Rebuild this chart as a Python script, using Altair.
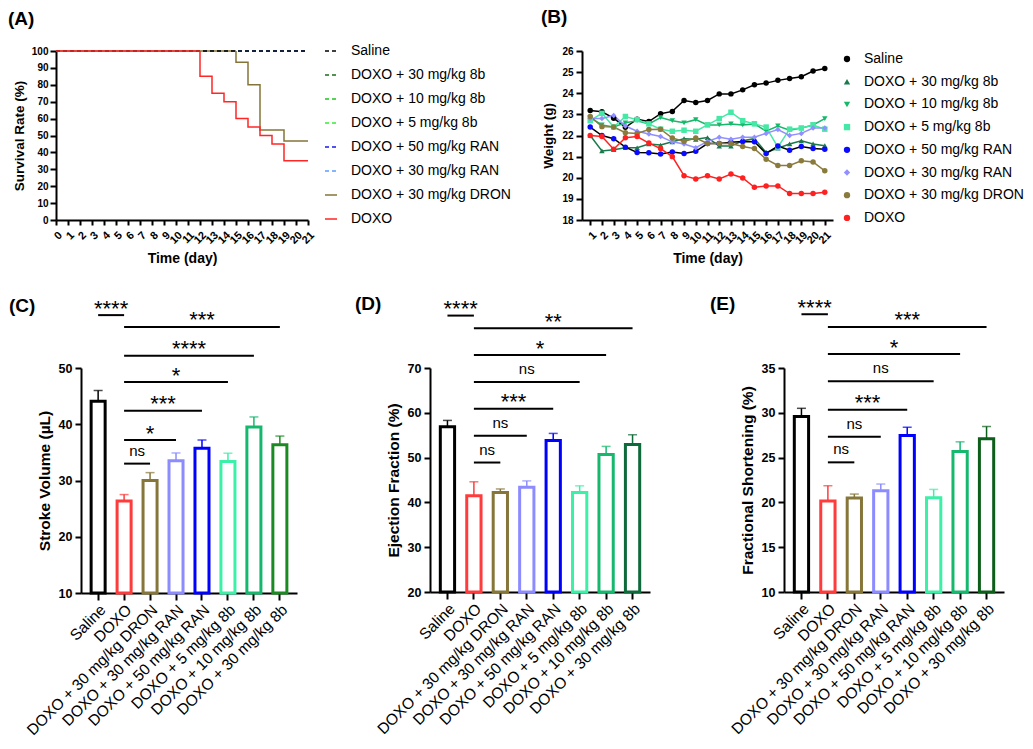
import json
import altair as alt
import pandas as pd

FONT = "Liberation Sans"

# ---------------- shared group names ----------------
groups = ["Saline", "DOXO + 30 mg/kg 8b", "DOXO + 10 mg/kg 8b", "DOXO + 5 mg/kg 8b",
          "DOXO + 50 mg/kg RAN", "DOXO + 30 mg/kg RAN", "DOXO + 30 mg/kg DRON", "DOXO"]

# ---------------- Panel A: survival ----------------
surv_colors = ["#000000", "#1b6e1b", "#1fc41f", "#38ec38", "#1a1aee", "#5c9dff", "#857437", "#ff2626"]
surv_dash = [[4, 3]] * 6 + [[1, 0]] * 2
full_days = [0, 21]
full_surv = [100, 100]
dron_days = [0, 15, 16, 17, 19, 21]
dron_surv = [100, 93.3, 80, 53.3, 46.7, 46.7]
doxo_days = [0, 12, 13, 14, 15, 16, 17, 18, 19, 21]
doxo_surv = [100, 85, 75, 70, 60, 55, 50, 45, 35, 35]

# ---------------- Panel B: body weight ----------------
days = list(range(1, 22))
w_saline = [23.18, 23.12, 22.82, 22.39, 22.77, 22.66, 23.03, 23.14, 23.66, 23.56, 23.66,
            23.97, 23.97, 24.16, 24.40, 24.48, 24.61, 24.70, 24.78, 25.05, 25.17]
w_8b30 = [22.0, 21.27, 21.33, 21.42, 21.42, 21.6, 21.55, 21.7, 21.85, 21.82, 21.9,
          21.5, 21.5, 21.75, 21.85, 21.2, 21.4, 21.6, 21.75, 21.6, 21.52]
w_8b10 = [22.85, 22.5, 22.4, 22.6, 22.7, 22.55, 22.85, 22.7, 22.6, 22.75, 22.5,
          22.5, 22.55, 22.5, 22.55, 22.2, 22.45, 22.25, 22.35, 22.5, 22.8]
w_8b5 = [22.7, 23.05, 22.4, 22.9, 22.75, 22.55, 22.3, 22.2, 22.25, 22.2, 22.5,
         22.8, 23.1, 22.7, 22.55, 22.4, 21.45, 22.3, 22.35, 22.5, 22.3]
w_ran50 = [22.4, 22.0, 21.85, 21.45, 21.2, 21.18, 21.12, 21.22, 21.15, 21.25, 21.62,
           21.62, 21.68, 21.72, 21.7, 21.15, 21.5, 21.3, 21.48, 21.38, 21.35]
w_ran30 = [22.8, 22.8, 22.95, 22.45, 22.2, 22.07, 21.95, 21.7, 21.6, 21.42, 21.72,
           21.92, 21.82, 21.92, 21.92, 22.1, 22.28, 22.0, 22.1, 22.35, 22.35]
w_dron = [22.9, 22.42, 22.4, 22.13, 22.1, 22.28, 22.3, 21.88, 21.72, 21.88, 21.62,
          21.62, 21.62, 21.48, 21.38, 20.88, 20.58, 20.58, 20.8, 20.75, 20.33]
w_doxo = [22.0, 21.95, 21.35, 21.89, 21.95, 21.64, 21.38, 21.0, 20.1, 19.94, 20.09,
          19.94, 20.18, 19.99, 19.55, 19.61, 19.61, 19.25, 19.25, 19.25, 19.31]
point_colors_b = ["#000000", "#1a7a4c", "#16b86a", "#45e8a5", "#0a0aff", "#9090ff", "#8a7a3c", "#ff2020"]
line_colors_b = ["#000000", "#1a7a4c", "#16b86a", "#45e8a5", "#000000", "#9090ff", "#8a7a3c", "#ff2020"]
shapes_b = ["circle", "triangle-up", "triangle-down", "square", "circle", "diamond", "circle", "circle"]

# ---------------- Panels C-E: echo bars ----------------
bar_groups = ["Saline", "DOXO", "DOXO + 30 mg/kg DRON", "DOXO + 30 mg/kg RAN",
              "DOXO + 50 mg/kg RAN", "DOXO + 5 mg/kg 8b", "DOXO + 10 mg/kg 8b", "DOXO + 30 mg/kg 8b"]
sv_mean = [44.1, 26.35, 30.0, 33.5, 35.75, 33.4, 39.5, 36.35]
sv_upper = [46.0, 27.5, 31.4, 34.9, 37.2, 34.85, 41.3, 37.9]
ef_mean = [56.9, 41.5, 42.2, 43.4, 53.8, 42.2, 50.7, 52.9]
ef_upper = [58.3, 44.6, 43.0, 44.8, 55.4, 43.7, 52.5, 55.1]
fs_mean = [29.58, 20.15, 20.49, 21.3, 27.46, 20.52, 25.68, 27.09]
fs_upper = [30.5, 21.86, 20.93, 22.05, 28.39, 21.45, 26.76, 28.47]
colors_c = ["#000000", "#ff3b3b", "#86763a", "#8c8cff", "#0000ff", "#3cf0a8", "#16b86e", "#1b8a22"]
colors_d = ["#000000", "#ff3b3b", "#86763a", "#8c8cff", "#0000ff", "#3cf0a8", "#16b86e", "#0e6a3a"]
colors_e = ["#000000", "#ff3b3b", "#86763a", "#8c8cff", "#0000ff", "#3cf0a8", "#16b86e", "#0c5e1a"]

# significance brackets: from group index -> to group index
sig_from = [0, 1, 1, 1, 1, 1, 1]
sig_to = [1, 7, 6, 5, 4, 3, 2]
sig_c = ["****", "***", "****", "*", "***", "*", "ns"]
sig_y_c = [59.4, 57.3, 52.2, 47.5, 42.4, 37.2, 33.0]
sig_d = ["****", "**", "*", "ns", "***", "ns", "ns"]
sig_y_d = [81.7, 78.9, 72.9, 66.9, 60.9, 54.9, 48.9]
sig_e = ["****", "***", "*", "ns", "***", "ns", "ns"]
sig_y_e = [41.0, 39.58, 36.56, 33.51, 30.35, 27.33, 24.47]

INDEP = dict(color="independent", stroke="independent", shape="independent", strokeDash="independent")


def panel_label(text, dx, dy):
    return alt.Chart(pd.DataFrame({"t": [text]})).mark_text(
        align="left", baseline="middle", fontSize=19, fontWeight="bold", font=FONT, color="black"
    ).encode(text="t:N", x=alt.value(dx), y=alt.value(dy))


# ---------------- build Panel A ----------------
rows = []
for g in groups[:6]:
    for d, s in zip(full_days, full_surv):
        rows.append({"group": g, "day": d, "surv": s})
for d, s in zip(dron_days, dron_surv):
    rows.append({"group": groups[6], "day": d, "surv": s})
for d, s in zip(doxo_days, doxo_surv):
    rows.append({"group": groups[7], "day": d, "surv": s})
surv_df = pd.DataFrame(rows)

A_SHIFT = 25  # plot area of panel A starts this far left of the shared column origin
legend_a = alt.Legend(title=None, orient="none", legendX=243, legendY=-7, labelFontSize=14,
                      labelFont=FONT, labelFontWeight="normal", symbolType="stroke",
                      symbolStrokeWidth=1.6, symbolSize=144, rowPadding=10.0, labelOffset=13,
                      labelLimit=400, padding=0)
xa = alt.X("day:Q", scale=alt.Scale(domain=[0, 21], nice=False, range=[-A_SHIFT, 227]),
           axis=alt.Axis(values=list(range(22)), labelAngle=-45, labelFontSize=11, tickSize=5,
                         labelPadding=4, labelOverlap=False, title="Time (day)", titleFontSize=14,
                         titlePadding=6))
ya = alt.Y("surv:Q", scale=alt.Scale(domain=[0, 100], nice=False),
           axis=alt.Axis(values=list(range(0, 101, 10)), labelFontSize=10, tickSize=6, labelPadding=2,
                         offset=A_SHIFT, title="Survival Rate (%)", titleFontSize=13.5, titlePadding=5))
ca = alt.Color("group:N", scale=alt.Scale(domain=groups, range=surv_colors), legend=legend_a)
da = alt.StrokeDash("group:N", scale=alt.Scale(domain=groups, range=surv_dash), legend=legend_a)


def surv_layer(names):
    return alt.Chart(surv_df).transform_filter(
        alt.FieldOneOfPredicate(field="group", oneOf=names)
    ).mark_line(interpolate="step-after", strokeWidth=1.5).encode(x=xa, y=ya, color=ca, strokeDash=da)


panel_a = alt.layer(
    surv_layer(groups[1:6]), surv_layer([groups[6]]), surv_layer([groups[0]]), surv_layer([groups[7]]),
    panel_label("(A)", -73, -32)
).properties(width=227, height=169)

# ---------------- build Panel B ----------------
series_b = [w_saline, w_8b30, w_8b10, w_8b5, w_ran50, w_ran30, w_dron, w_doxo]
rows = []
for g, vals in zip(groups, series_b):
    for d, v in zip(days, vals):
        rows.append({"group": g, "day": d, "w": v})
weight_df = pd.DataFrame(rows)

xb = alt.X("day:Q", scale=alt.Scale(domain=[0.3, 21.7], nice=False),
           axis=alt.Axis(values=days, labelAngle=-45, labelFontSize=11, tickSize=5, labelPadding=4,
                         labelOverlap=False, title="Time (day)", titleFontSize=14, titlePadding=6))
yb = alt.Y("w:Q", scale=alt.Scale(domain=[18, 26], nice=False, zero=False),
           axis=alt.Axis(values=list(range(18, 27)), labelFontSize=10, tickSize=6, labelPadding=3,
                         title="Weight (g)", titleFontSize=13.5, titlePadding=6))
legend_b = alt.Legend(title=None, orient="none", legendX=258, legendY=1, labelFontSize=14,
                      labelFont=FONT, labelFontWeight="normal", symbolSize=40, rowPadding=8.7,
                      labelOffset=10, labelLimit=400, padding=0)
line_b = alt.Chart(weight_df).mark_line(strokeWidth=1.5).encode(
    x=xb, y=yb, order="day:Q",
    color=alt.Color("group:N", scale=alt.Scale(domain=groups, range=line_colors_b), legend=None))
point_b = alt.Chart(weight_df).mark_point(filled=True, size=30, opacity=1).encode(
    x=xb, y=yb,
    color=alt.Color("group:N", scale=alt.Scale(domain=groups, range=point_colors_b), legend=legend_b),
    shape=alt.Shape("group:N", scale=alt.Scale(domain=groups, range=shapes_b), legend=legend_b))
panel_b = alt.layer(line_b, point_b, panel_label("(B)", -41, -34)).resolve_scale(
    color="independent", shape="independent").resolve_legend(
    color="independent", shape="independent").properties(width=251, height=169)


# ---------------- bar panels ----------------
P_IN, P_OUT = 0.46, 0.39
EDGE = P_OUT + (1 - P_IN) / 2  # distance (in steps) from plot edge to first band centre


def bar_panel(mean, upper, labels, sig_y, colors, ydom, ystep, ytitle, width, height, plabel, lx, ly):
    df = pd.DataFrame({"group": bar_groups, "mean": mean, "upper": upper})
    sig = pd.DataFrame({"x1": sig_from, "x2": sig_to, "y": sig_y, "label": labels})
    xband = alt.Scale(domain=bar_groups, paddingInner=P_IN, paddingOuter=P_OUT)
    xq = alt.Scale(domain=[-EDGE, len(bar_groups) - 1 + EDGE], nice=False, zero=False)
    ys = alt.Scale(domain=ydom, nice=False, zero=False)
    xaxis = alt.Axis(labelAngle=-45, labelFontSize=15.5, labelFontWeight="normal", title=None,
                     tickSize=7, labelPadding=2, labelOverlap=False, labelLimit=400)
    yaxis = alt.Axis(values=list(range(ydom[0], ydom[1] + 1, ystep)), labelFontSize=12.5, tickSize=6,
                     labelPadding=3, title=ytitle, titleFontSize=15.5, titlePadding=6)
    cscale = alt.Scale(domain=bar_groups, range=colors)
    xg = alt.X("group:N", scale=xband, sort=bar_groups, axis=xaxis)
    bars = alt.Chart(df).mark_bar(fill="white", strokeWidth=3).encode(
        x=xg, y=alt.Y("mean:Q", scale=ys, axis=yaxis), y2=alt.datum(ydom[0]),
        stroke=alt.Stroke("group:N", scale=cscale, legend=None))
    err = alt.Chart(df).mark_rule(strokeWidth=1.5).encode(
        x=xg, y=alt.Y("mean:Q", scale=ys), y2="upper:Q",
        stroke=alt.Stroke("group:N", scale=cscale, legend=None))
    cap = alt.Chart(df).mark_tick(size=9, thickness=1.5, orient="horizontal").encode(
        x=xg, y=alt.Y("upper:Q", scale=ys),
        color=alt.Color("group:N", scale=cscale, legend=None))
    base = alt.layer(bars, err, cap)
    br = alt.Chart(sig).mark_rule(strokeWidth=2, color="black").encode(
        x=alt.X("x1:Q", scale=xq, axis=None), x2="x2:Q", y=alt.Y("y:Q", scale=ys))
    ns_t = alt.Chart(sig).transform_filter("datum.label == 'ns'").transform_calculate(
        xm="(datum.x1 + datum.x2) / 2").mark_text(
        fontSize=15, dy=-13, baseline="middle", font=FONT, color="black").encode(
        x=alt.X("xm:Q", scale=xq, axis=None), y=alt.Y("y:Q", scale=ys), text="label:N")
    st_t = alt.Chart(sig).transform_filter("datum.label != 'ns'").transform_calculate(
        xm="(datum.x1 + datum.x2) / 2").mark_text(
        fontSize=22, dy=-6.5, baseline="middle", font=FONT, color="black").encode(
        x=alt.X("xm:Q", scale=xq, axis=None), y=alt.Y("y:Q", scale=ys), text="label:N")
    ann = alt.layer(br, ns_t, st_t)
    return alt.layer(base, ann, panel_label(plabel, lx, ly)).resolve_scale(x="independent").properties(
        width=width, height=height)


panel_c = bar_panel(sv_mean, sv_upper, sig_c, sig_y_c, colors_c, [10, 50], 10,
                    "Stroke Volume (\u00b5L)", 216, 225, "(C)", -72, -62)
panel_d = bar_panel(ef_mean, ef_upper, sig_d, sig_y_d, colors_d, [20, 70], 10,
                    "Ejection Fraction (%)", 220, 224, "(D)", -75, -64)
panel_e = bar_panel(fs_mean, fs_upper, sig_e, sig_y_e, colors_e, [10, 35], 5,
                    "Fractional Shortening (%)", 220, 224, "(E)", -74, -64)

top = alt.hconcat(panel_a, panel_b, spacing=30).resolve_scale(**INDEP).resolve_legend(**INDEP)
right_pair = alt.hconcat(panel_d, panel_e, spacing=60).resolve_scale(**INDEP).resolve_legend(**INDEP)
bottom = alt.hconcat(panel_c, right_pair, spacing=58).resolve_scale(**INDEP).resolve_legend(**INDEP)

chart = alt.concat(top, bottom, columns=1, align="none", spacing=29).resolve_scale(
    **INDEP).resolve_legend(**INDEP).properties(
    padding={"left": 0, "top": 0, "right": 0, "bottom": 0}
).configure_view(stroke=None).configure_axis(
    domainColor="black", domainWidth=2, tickColor="black", tickWidth=2,
    labelColor="black", titleColor="black", labelFont=FONT, titleFont=FONT,
    labelFontWeight="bold", titleFontWeight="bold", grid=False, labelFlush=False, labelOverlap=False
).configure_legend(labelFont=FONT, labelColor="black", labelFontWeight="normal").configure_text(font=FONT)

chart.save("out.html", embed_options={"renderer": "svg", "actions": False})
